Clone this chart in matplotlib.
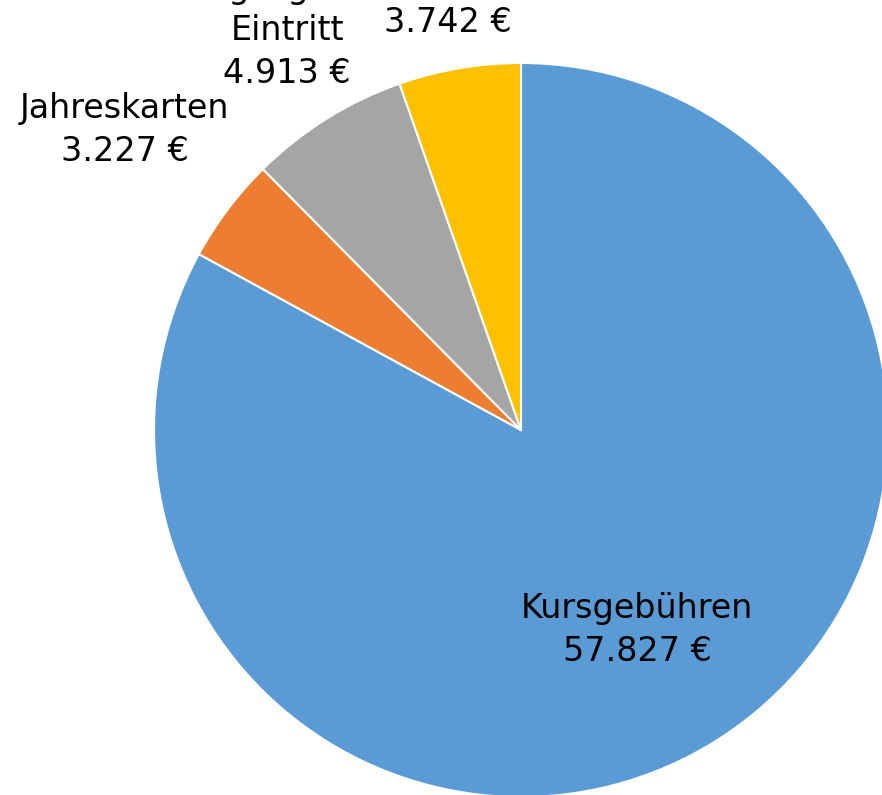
import matplotlib.pyplot as plt

# Einnahmen (Euro)
categories = ['Kursgebühren', 'Jahreskarten', 'Tagesgäste\nEintritt', 'Beiträge']
values = [57827, 3227, 4913, 3742]
colors = ['#5B9BD5', '#ED7D31', '#A5A5A5', '#FFC000']

# label centres in figure pixels (x, y from top)
label_pos = [(637, 630), (125, 130), (287, 31), (448, 1)]


def fmt_euro(v):
    return f'{v:,}'.replace(',', '.') + ' €'


fig = plt.figure(figsize=(8.82, 7.95), dpi=100)
ax = fig.add_axes([0, 0, 1, 1])

cx, cy, r = 521, 795 - 430, 367
ax.pie(values, colors=colors, startangle=90, counterclock=False,
       center=(cx, cy), radius=r, frame=True,
       wedgeprops=dict(edgecolor='white', linewidth=1.5))
ax.set_xlim(0, 882)
ax.set_ylim(0, 795)
ax.set_aspect('auto')
ax.axis('off')

for cat, val, (x, y) in zip(categories, values, label_pos):
    ax.text(x, 795 - y, cat + '\n' + fmt_euro(val), ha='center', va='center',
            fontsize=24, family='DejaVu Sans', linespacing=1.38, color='black')

fig.savefig('out.png', dpi=100)
